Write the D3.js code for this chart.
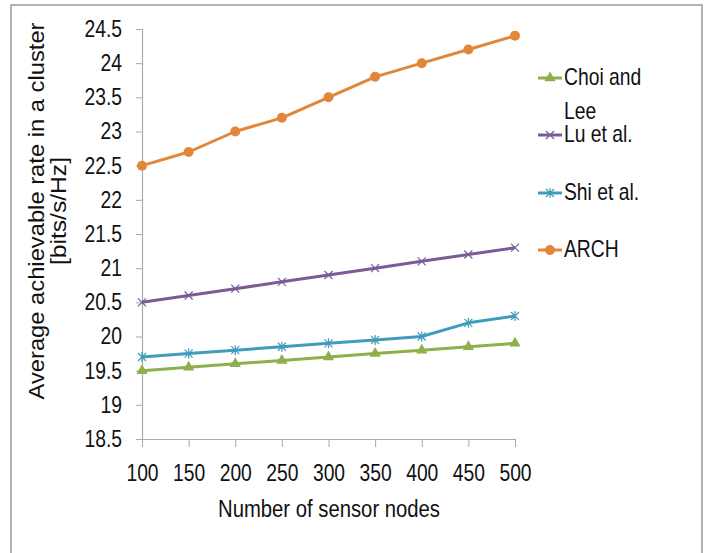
<!DOCTYPE html>
<meta charset="utf-8">
<head>
<style>
  body { margin: 0; background: #fff; }
  text { font-family: "Liberation Sans", Arial, sans-serif; fill: #111; }
</style>
</head>
<body>
<div id="my_dataviz"></div>
<script src="https://d3js.org/d3.v7.min.js"></script>
<script>
// data
const nodes = [100, 150, 200, 250, 300, 350, 400, 450, 500];
const choiLee = [19.5, 19.55, 19.6, 19.65, 19.7, 19.75, 19.8, 19.85, 19.9];
const luEtAl  = [20.5, 20.6, 20.7, 20.8, 20.9, 21.0, 21.1, 21.2, 21.3];
const shiEtAl = [19.7, 19.75, 19.8, 19.85, 19.9, 19.95, 20.0, 20.2, 20.3];
const arch    = [22.5, 22.7, 23.0, 23.2, 23.5, 23.8, 24.0, 24.2, 24.4];
const yTicks  = [18.5, 19, 19.5, 20, 20.5, 21, 21.5, 22, 22.5, 23, 23.5, 24, 24.5];

const series = [
  {name: ["Choi and", "Lee"], values: choiLee, color: "#8fae4c", marker: "triangle", ly: 78},
  {name: ["Lu et al."], values: luEtAl, color: "#7a5b98", marker: "x", ly: 135},
  {name: ["Shi et al."], values: shiEtAl, color: "#3f9dba", marker: "star", ly: 193},
  {name: ["ARCH"], values: arch, color: "#e0873a", marker: "circle", ly: 250}
];

const W = 704, H = 553;
const SX = 0.84; // horizontal squeeze to mimic the narrow original font
const FS = "23px";
const svg = d3.select("#my_dataviz").append("svg")
  .attr("width", W).attr("height", H);

// chart frame
svg.append("rect")
  .attr("x", 11).attr("y", 5).attr("width", 691).attr("height", 560)
  .attr("fill", "none").attr("stroke", "#999").attr("stroke-width", 1.5);

const x = d3.scalePoint().domain(nodes).range([142, 515]);
const y = d3.scaleLinear().domain([18.5, 24.5]).range([439, 29]);

// y axis
const yAxis = svg.append("g")
  .attr("transform", "translate(142,0)")
  .call(d3.axisLeft(y).tickValues(yTicks).tickSize(6).tickPadding(14).tickFormat(d3.format("")));
yAxis.select(".domain").attr("stroke", "#aaa").attr("stroke-width", 1.2);
yAxis.selectAll(".tick line").attr("stroke", "#aaa");
yAxis.selectAll("text")
  .style("font-size", FS).attr("fill", "#111")
  .attr("x", function() { return +d3.select(this).attr("x") / SX; })
  .attr("transform", `scale(${SX},1)`);

// x axis
const xAxis = svg.append("g")
  .attr("transform", "translate(0,439)")
  .call(d3.axisBottom(x).tickSize(8).tickPadding(18).tickSizeOuter(0));
xAxis.select(".domain").attr("stroke", "#aaa").attr("stroke-width", 1.2);
xAxis.selectAll(".tick line").attr("stroke", "#aaa");
xAxis.selectAll("text")
  .style("font-size", FS).attr("fill", "#111")
  .attr("transform", `scale(${SX},1)`);

// axis titles
svg.append("text")
  .attr("transform", "translate(44,211) rotate(-90)")
  .attr("text-anchor", "middle").style("font-size", "22px")
  .attr("textLength", 377).attr("lengthAdjust", "spacingAndGlyphs")
  .text("Average achievable rate in a cluster");
svg.append("text")
  .attr("transform", "translate(66,211) rotate(-90)")
  .attr("text-anchor", "middle").style("font-size", "22px")
  .attr("textLength", 108).attr("lengthAdjust", "spacingAndGlyphs")
  .text("[bits/s/Hz]");
svg.append("text")
  .attr("x", 329).attr("y", 517)
  .attr("text-anchor", "middle").style("font-size", FS)
  .attr("textLength", 222).attr("lengthAdjust", "spacingAndGlyphs")
  .text("Number of sensor nodes");

const line = d3.line().x((d, i) => x(nodes[i])).y(d => y(d));

function drawMarker(g, type, cx, cy, color) {
  if (type === "circle") {
    g.append("circle").attr("cx", cx).attr("cy", cy).attr("r", 5).attr("fill", color);
  } else if (type === "triangle") {
    g.append("path").attr("d", d3.symbol(d3.symbolTriangle, 55)()).attr("transform", `translate(${cx},${cy})`).attr("fill", color);
  } else if (type === "x") {
    g.append("path").attr("d", `M${cx-4},${cy-4}L${cx+4},${cy+4}M${cx-4},${cy+4}L${cx+4},${cy-4}`)
      .attr("stroke", color).attr("stroke-width", 1.2);
  } else if (type === "star") {
    g.append("path").attr("d", `M${cx-4},${cy-4}L${cx+4},${cy+4}M${cx-4},${cy+4}L${cx+4},${cy-4}M${cx},${cy-5}L${cx},${cy+5}`)
      .attr("stroke", color).attr("stroke-width", 1.2);
  }
}

series.forEach(s => {
  const g = svg.append("g");
  g.append("path").datum(s.values)
    .attr("d", line).attr("fill", "none")
    .attr("stroke", s.color).attr("stroke-width", 3).attr("stroke-linejoin", "round");
  s.values.forEach((v, i) => drawMarker(g, s.marker, x(nodes[i]), y(v), s.color));

  // legend
  const lg = svg.append("g");
  lg.append("line").attr("x1", 538).attr("x2", 562).attr("y1", s.ly).attr("y2", s.ly)
    .attr("stroke", s.color).attr("stroke-width", 3);
  drawMarker(lg, s.marker, 550, s.ly, s.color);
  s.name.forEach((t, k) => {
    lg.append("text").attr("x", 564 / SX).attr("y", s.ly + 7 + k * 34)
      .attr("transform", `scale(${SX},1)`)
      .style("font-size", FS).text(t);
  });
});
</script>
</body>
